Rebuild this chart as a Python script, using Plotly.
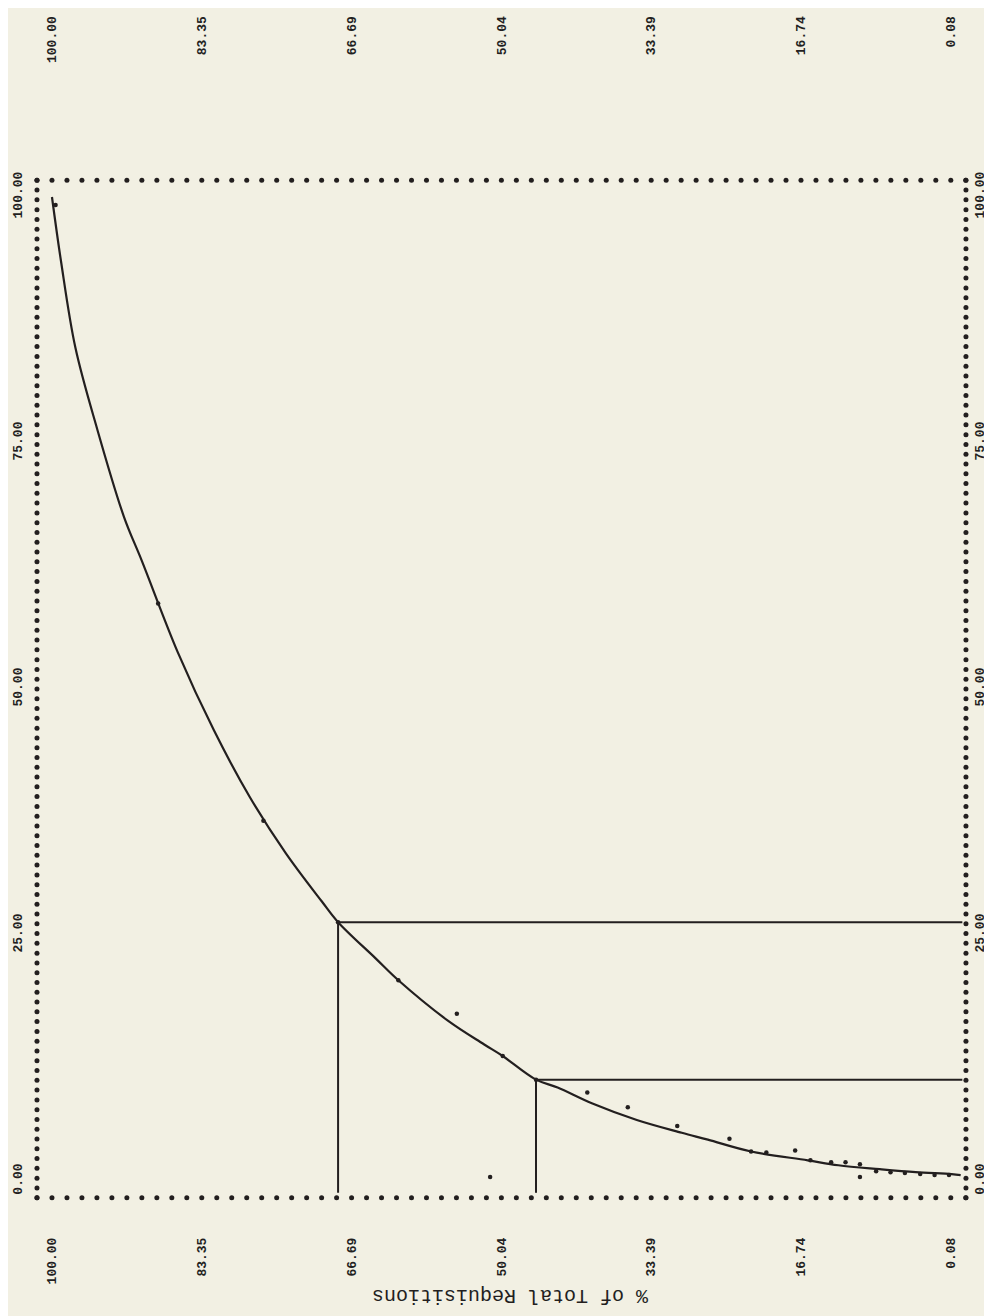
import numpy as np
import plotly.graph_objects as go

# ---------------- data ----------------
x_tick_vals = [100.00, 83.35, 66.69, 50.04, 33.39, 16.74, 0.08]
x_tick_text = ["100.00", "83.35", "66.69", "50.04", "33.39", "16.74", "0.08"]
y_tick_vals = [0, 25, 50, 75, 100]
y_tick_text = ["0.00", "25.00", "50.00", "75.00", "100.00"]

# fitted curve: % of total requisitions (x) vs cumulative % (y)
fit_req = [100.0, 99.0, 97.4, 95.0, 92.0, 90.0, 86.0, 82.0, 78.0, 74.0, 70.0, 68.2,
           64.0, 61.5, 56.0, 52.0, 49.9, 46.2, 43.8, 40.0, 35.0, 30.0, 27.1, 22.3,
           16.0, 12.6, 8.0, 4.0, 0.0, -1.0]
fit_val = [100.0, 93.5, 84.7, 76.5, 67.5, 63.0, 53.7, 45.8, 39.0, 33.3, 28.4, 26.3,
           22.6, 20.4, 16.3, 13.9, 12.7, 10.3, 9.5, 7.9, 6.2, 4.9, 4.2, 3.0,
           2.1, 1.6, 1.2, 0.9, 0.7, 0.6]

# observed points
obs_req = [99.6, 88.2, 76.5, 68.2, 61.5, 55.0, 49.9, 46.2, 51.3,
           40.5, 36.0, 30.5, 24.7, 22.3, 20.6, 17.4, 15.7, 13.4, 11.8, 10.2,
           10.2, 8.4, 6.8, 5.2, 3.5, 1.9, 0.3]
obs_val = [99.2, 58.7, 36.6, 26.3, 20.4, 17.0, 12.7, 10.3, 0.4,
           9.0, 7.5, 5.6, 4.3, 3.0, 2.9, 3.1, 2.1, 1.9, 1.9, 1.7,
           0.4, 1.0, 0.9, 0.8, 0.7, 0.6, 0.6]

# cut-off markers
cut_req = [68.2, 46.2]
cut_val = [26.3, 10.3]

# ---------------- styling / geometry ----------------
ink = "#231f1f"
bg = "#f2f0e3"
mono = "Liberation Mono"

x_range = [102.22, -2.48]
y_range = [-2.44, 102.44]
step_x = (x_tick_vals[0] - x_tick_vals[1]) / 10.0
frame_left = x_tick_vals[0] + step_x
frame_right = x_tick_vals[-1] - step_x
frame_bottom = -1.7
frame_top = 101.7

fig = go.Figure()

# dotted printer frame
fx = np.arange(frame_left, frame_right - 1e-6, -step_x)
fy = np.linspace(frame_bottom, frame_top, 105)
frame_x = list(fx) + [None] + list(fx) + [None] + [frame_left] * len(fy) + [None] + [frame_right] * len(fy)
frame_y = [frame_top] * len(fx) + [None] + [frame_bottom] * len(fx) + [None] + list(fy) + [None] + list(fy)
fig.add_trace(go.Scatter(x=frame_x, y=frame_y, mode="markers",
                         marker=dict(size=5, color=ink, symbol="circle"),
                         hoverinfo="skip", showlegend=False))

# reference lines
rx, ry = [], []
for cx, cy in zip(cut_req, cut_val):
    rx += [cx, cx, None, cx, frame_right + 0.4, None]
    ry += [frame_bottom + 0.5, cy, None, cy, cy, None]
fig.add_trace(go.Scatter(x=rx, y=ry, mode="lines",
                         line=dict(color=ink, width=2), hoverinfo="skip", showlegend=False))

# fitted curve
fig.add_trace(go.Scatter(x=fit_req, y=fit_val, mode="lines", line_shape="spline",
                         line=dict(color=ink, width=2.2), showlegend=False))

# observed points
fig.add_trace(go.Scatter(x=obs_req, y=obs_val, mode="markers",
                         marker=dict(size=4.5, color=ink), showlegend=False))

# helper trace for secondary axes
fig.add_trace(go.Scatter(x=[None], y=[None], xaxis="x2", yaxis="y2", showlegend=False))

pad_len = max(len(t) for t in x_tick_text)
top_text = ["\u00a0" * (pad_len - len(t)) + t for t in x_tick_text]

tickfont = dict(family=mono, size=13, color=ink, weight="bold")
common = dict(showgrid=False, zeroline=False, showline=False, ticks="", automargin=False,
              tickfont=tickfont, tickangle=-90)

fig.update_layout(
    width=992, height=1316,
    margin=dict(l=24, r=26, t=165, b=119),
    paper_bgcolor=bg, plot_bgcolor=bg,
    showlegend=False,
    xaxis=dict(range=x_range, tickvals=x_tick_vals, ticktext=top_text, side="top",
               ticklabelstandoff=109, **common),
    xaxis2=dict(range=x_range, tickvals=x_tick_vals, ticktext=x_tick_text, side="bottom",
                overlaying="x", anchor="y", ticklabelstandoff=29, **common),
    yaxis=dict(range=y_range, tickvals=y_tick_vals, ticktext=y_tick_text, side="left",
               ticklabelstandoff=6, **common),
    yaxis2=dict(range=y_range, tickvals=y_tick_vals, ticktext=y_tick_text, side="right",
                overlaying="y", anchor="x", ticklabelstandoff=-4, **common),
    annotations=[dict(text="% of Total Requisitions", xref="paper", yref="paper",
                      x=0.508, y=-0.101, showarrow=False, textangle=180,
                      font=dict(family=mono, size=20, color=ink))],
)

fig.write_html("out.html")
